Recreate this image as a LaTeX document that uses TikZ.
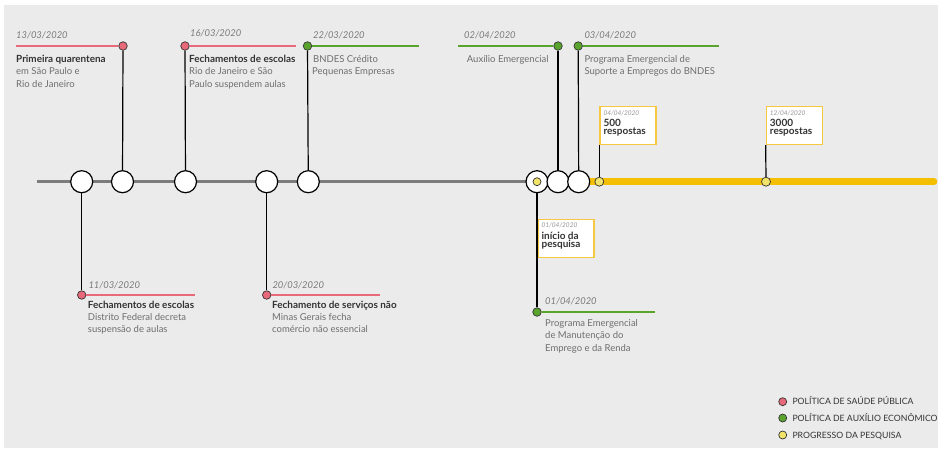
\documentclass[tikz,border=0pt]{standalone}
\usepackage{fontspec}
\setmainfont{Lato}
\pgfdeclarelayer{back}
\pgfdeclarelayer{bg}
\pgfsetlayers{back,bg,main}
\definecolor{bgc}{HTML}{EBEBEB}
\definecolor{polred}{HTML}{E8697A}
\definecolor{polgreen}{HTML}{5AA42E}
\definecolor{ylw}{HTML}{F4BF00}
\definecolor{ydot}{HTML}{F2E46A}
\definecolor{ybox}{HTML}{F5C842}
\definecolor{datec}{HTML}{7A7A7A}
\definecolor{titc}{HTML}{333333}
\definecolor{descc}{HTML}{6E6E6E}
\definecolor{outl}{HTML}{333333}
\definecolor{tlgray}{HTML}{7C7C7C}
\tikzset{
  tcirc/.style={circle, draw=black, fill=white, line width=1.2pt, minimum size=22pt, inner sep=0pt},
  rdot/.style={circle, draw=outl, fill=polred, line width=0.7pt, minimum size=8.5pt, inner sep=0pt},
  gdot/.style={circle, draw=outl, fill=polgreen, line width=0.7pt, minimum size=8.5pt, inner sep=0pt},
  yldot/.style={circle, draw=outl, fill=ydot, line width=0.7pt, minimum size=9pt, inner sep=0pt},
  redln/.style={draw=polred, line width=2pt},
  grnln/.style={draw=polgreen, line width=2pt},
  stem/.style={draw=black, line width=1.2pt},
  tline/.style={draw=tlgray, line width=2.7pt},
  yline/.style={draw=ylw, line width=6.7pt, line cap=round},
  datetxt/.style={anchor=base west, inner sep=0pt, font=\fontsize{9.4}{11}\selectfont\itshape, text=datec},
  ttl/.style={anchor=base west, inner sep=0pt, font=\fontsize{9.9}{11}\selectfont\bfseries, text=titc},
  desc/.style={anchor=base west, inner sep=0pt, font=\fontsize{9.5}{11}\selectfont, text=descc},
  yboxst/.style={draw=ybox, fill=white, line width=1.4pt, minimum width=56pt, minimum height=38pt, inner sep=0pt, anchor=north west},
  bdate/.style={anchor=base west, inner sep=0pt, font=\fontsize{6.5}{7}\selectfont\itshape, text=datec!80},
  btxt/.style={anchor=base west, inner sep=0pt, font=\fontsize{10}{10}\selectfont\bfseries, text=titc},
  legtxt/.style={anchor=base west, inner sep=0pt, font=\fontsize{8.7}{9}\selectfont, text=titc},
}
\begin{document}
\begin{tikzpicture}[x=1pt,y=-1pt]
\useasboundingbox (0,0) rectangle (939,448);
\begin{pgfonlayer}{back}
\fill[bgc] (4,5) rectangle (938,448);
\end{pgfonlayer}

% timeline circles
\node[tcirc] (c1) at (81.7,181.7) {};
\node[tcirc] (c2) at (122.5,181.7) {};
\node[tcirc] (c3) at (185.5,181.7) {};
\node[tcirc] (c4) at (266.7,181.7) {};
\node[tcirc] (c5) at (308.3,181.7) {};
\node[tcirc] (c6) at (537,181.7) {};
\node[tcirc] (c7) at (558,181.7) {};
\node[tcirc] (c8) at (578.7,181.7) {};
\node[yldot, minimum size=8pt] (y0) at (537,181.7) {};
\coordinate (tstart) at (36.7,181.7);
\coordinate (tend) at (934,181.7);
\begin{pgfonlayer}{bg}
\draw[tline] (tstart) -- (c6.center);
\draw[yline] (c8.center) -- (tend);
\end{pgfonlayer}
\node[yldot] (y1) at (599.3,181.7) {};
\node[yldot] (y2) at (766,181.7) {};

% upper events
\node[rdot] (d1) at (123,46) {};
\coordinate (l1) at (16,46);
\draw[redln] (l1) -- (d1);
\draw[stem] (d1) -- (c2);
\node[datetxt] (t1a) at (16,38) {13/03/2020};
\node[ttl] (t1b) at (16,62) {Primeira quarentena};
\node[desc] (t1c) at (16,74.5) {em São Paulo e};
\node[desc] (t1d) at (16,87) {Rio de Janeiro};

\node[rdot] (d2) at (185,46) {};
\coordinate (l2) at (296,46);
\draw[redln] (d2) -- (l2);
\draw[stem] (d2) -- (c3);
\node[datetxt] (t2a) at (190,36.5) {16/03/2020};
\node[ttl] (t2b) at (189,62) {Fechamentos de escolas};
\node[desc] (t2c) at (189,74.5) {Rio de Janeiro e São};
\node[desc] (t2d) at (189,87) {Paulo suspendem aulas};

\node[gdot] (d3) at (307.5,46) {};
\coordinate (l3) at (419,46);
\draw[grnln] (d3) -- (l3);
\draw[stem] (d3) -- (c5);
\node[datetxt] (t3a) at (313,38) {22/03/2020};
\node[desc] (t3b) at (313,62) {BNDES Crédito};
\node[desc] (t3c) at (312,74.5) {Pequenas Empresas};

\node[gdot] (d4) at (558,46) {};
\coordinate (l4) at (458,46);
\draw[grnln] (l4) -- (d4);
\draw[stem] (d4) -- (c7);
\node[datetxt] (t4a) at (464,38) {02/04/2020};
\node[desc] (t4b) at (466.7,62) {Auxílio Emergencial};

\node[gdot] (d5) at (578.2,46) {};
\coordinate (l5) at (719,46);
\draw[grnln] (d5) -- (l5);
\draw[stem] (d5) -- (c8);
\node[datetxt] (t5a) at (584.3,38) {03/04/2020};
\node[desc] (t5b) at (584.3,62) {Programa Emergencial de};
\node[desc] (t5c) at (584.3,74.5) {Suporte a Empregos do BNDES};

% lower events
\node[rdot] (d6) at (81.7,295) {};
\coordinate (l6) at (195,295);
\draw[redln] (d6) -- (l6);
\draw[stem] (c1) -- (d6);
\node[datetxt] (t6a) at (88.3,288) {11/03/2020};
\node[ttl] (t6b) at (87.7,308.5) {Fechamentos de escolas};
\node[desc] (t6c) at (87.7,320.5) {Distrito Federal decreta};
\node[desc] (t6d) at (87.7,332.5) {suspensão de aulas};

\node[rdot] (d7) at (266.7,295) {};
\coordinate (l7) at (380,295);
\draw[redln] (d7) -- (l7);
\draw[stem] (c4) -- (d7);
\node[datetxt] (t7a) at (272.3,288) {20/03/2020};
\node[ttl] (t7b) at (272,308.5) {Fechamento de serviços não};
\node[desc] (t7c) at (272,320.5) {Minas Gerais fecha};
\node[desc] (t7d) at (272,332.5) {comércio não essencial};

% survey boxes
\node[yboxst] (b1) at (537.3,218.5) {};
\node[bdate] (b1a) at (541.5,227.5) {01/04/2020};
\node[btxt] (b1b) at (541.5,239) {início da};
\node[btxt] (b1c) at (541.5,247.5) {pesquisa};

\node[gdot] (d8) at (537,312) {};
\coordinate (l8) at (655,312);
\draw[grnln] (d8) -- (l8);
\draw[stem] (c6) -- (d8);
\node[datetxt] (t8a) at (545,304) {01/04/2020};
\node[desc] (t8b) at (545,326.5) {Programa Emergencial};
\node[desc] (t8c) at (545,338.7) {de Manutenção do};
\node[desc] (t8d) at (545,351) {Emprego e da Renda};

\node[yboxst] (b2) at (599.3,105.7) {};
\node[bdate] (b2a) at (603.3,115) {04/04/2020};
\node[btxt] (b2b) at (603.3,126) {500};
\node[btxt] (b2c) at (603.3,134.5) {respostas};
\draw[stem] (b2.south west) -- (y1);

\node[yboxst] (b3) at (765.7,105.7) {};
\node[bdate] (b3a) at (769.7,115) {12/04/2020};
\node[btxt] (b3b) at (769.7,126) {3000};
\node[btxt] (b3c) at (769.7,134.5) {respostas};
\draw[stem] (b3.south west) -- (y2);

% legend
\node[rdot, minimum size=8pt] (g1) at (782.7,401.7) {};
\node[gdot, minimum size=8pt] (g2) at (782.7,418) {};
\node[yldot, minimum size=8pt] (g3) at (782.7,435) {};
\node[legtxt] (g1t) at (792.3,404.7) {POLÍTICA DE SAÚDE PÚBLICA};
\node[legtxt] (g2t) at (792.3,421) {POLÍTICA DE AUXÍLIO ECONÔMICO};
\node[legtxt] (g3t) at (792.3,438) {PROGRESSO DA PESQUISA};
\end{tikzpicture}
\end{document}
